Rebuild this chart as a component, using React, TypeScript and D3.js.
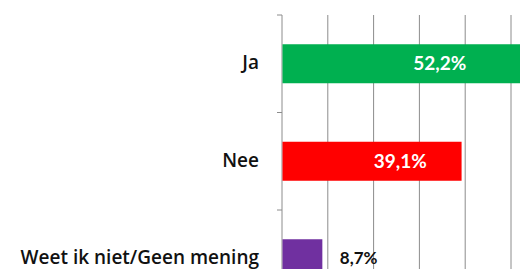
import * as d3 from "d3"
import { useLayoutEffect, useRef } from "react"

const categories = ["Ja", "Nee", "Weet ik niet/Geen mening"]
const values = [52.2, 39.1, 8.7]
const valueLabels = ["52,2%", "39,1%", "8,7%"]
const colors = ["#00B050", "#FF0000", "#7030A0"]
const gridTicks = [10, 20, 30, 40, 50, 60]

export default function App() {
  const ref = useRef<SVGSVGElement>(null)

  useLayoutEffect(() => {
    if (!ref.current) return
    const svg = d3.select(ref.current)
    svg.selectAll("*").remove()

    const x = d3.scaleLinear().domain([0, 60]).range([282, 282 + 6 * 45.8])
    const y = d3
      .scaleBand()
      .domain(categories)
      .range([15, 15 + 3 * 97.5])
      .paddingInner(0.6)
      .paddingOuter(0.3)
    const step = y.step()
    const top = 15
    const bottom = 15 + 3 * step

    // gridlines
    svg
      .append("g")
      .selectAll("line")
      .data(gridTicks)
      .enter()
      .append("line")
      .attr("x1", (d) => x(d))
      .attr("x2", (d) => x(d))
      .attr("y1", top)
      .attr("y2", bottom)
      .attr("stroke", "#8c8c8c")
      .attr("stroke-width", 1)

    // category axis
    const axis = svg.append("g")
    axis
      .append("line")
      .attr("x1", x(0))
      .attr("x2", x(0))
      .attr("y1", top)
      .attr("y2", bottom)
      .attr("stroke", "#8c8c8c")
    axis
      .selectAll(".tick")
      .data(d3.range(categories.length + 1))
      .enter()
      .append("line")
      .attr("x1", x(0) - 5)
      .attr("x2", x(0))
      .attr("y1", (i) => top + i * step)
      .attr("y2", (i) => top + i * step)
      .attr("stroke", "#8c8c8c")

    const rows = categories.map((c, i) => ({ c, v: values[i], label: valueLabels[i], color: colors[i] }))

    svg
      .selectAll(".bar")
      .data(rows)
      .enter()
      .append("rect")
      .attr("x", x(0) + 0.5)
      .attr("y", (d) => y(d.c)!)
      .attr("width", (d) => x(d.v) - x(0))
      .attr("height", y.bandwidth())
      .attr("fill", (d) => d.color)

    svg
      .selectAll(".cat")
      .data(rows)
      .enter()
      .append("text")
      .attr("x", 259)
      .attr("y", (d) => y(d.c)! + y.bandwidth() / 2)
      .attr("dy", "0.28em")
      .attr("text-anchor", "end")
      .attr("font-family", "'Open Sans', Lato, sans-serif")
      .attr("font-size", 19)
      .attr("font-weight", 600)
      .attr("fill", "#111")
      .text((d) => d.c)

    svg
      .selectAll(".val")
      .data(rows)
      .enter()
      .append("text")
      .attr("x", (d) => (d.v > 20 ? x(d.v * 0.66) : x(d.v) + 18))
      .attr("y", (d) => y(d.c)! + y.bandwidth() / 2)
      .attr("dy", "0.33em")
      .attr("text-anchor", (d) => (d.v > 20 ? "middle" : "start"))
      .attr("font-family", "Lato, 'Open Sans', sans-serif")
      .attr("font-size", (d) => (d.v > 20 ? 19 : 17))
      .attr("font-weight", 700)
      .attr("fill", (d) => (d.v > 20 ? "#ffffff" : "#111"))
      .text((d) => d.label)
  }, [])

  return (
    <svg
      ref={ref}
      width={520}
      height={269}
      style={{ position: "absolute", left: 0, top: 0, background: "#fff" }}
    />
  )
}
